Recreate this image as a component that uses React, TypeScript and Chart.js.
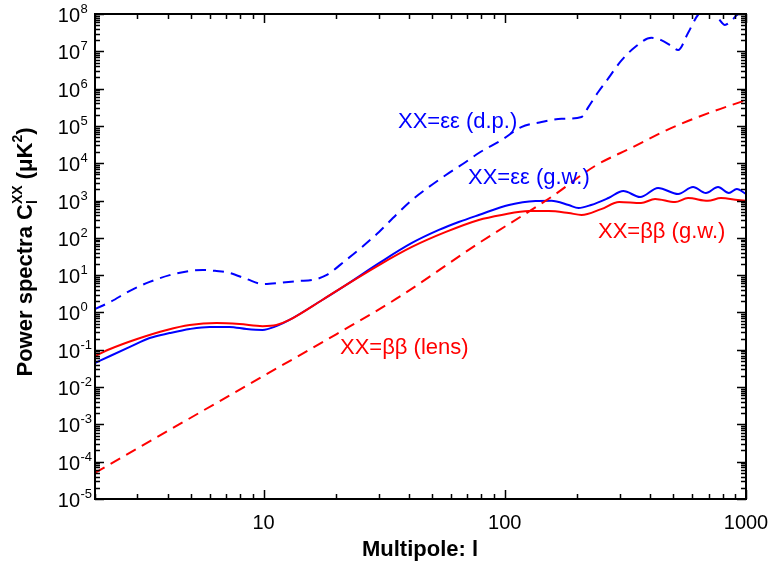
import React, { useEffect, useRef } from 'react';
import { Chart, registerables } from 'chart.js';

Chart.register(...registerables);

// ---- data (multipole l, power C_l) ----
const BLUE_DP_L = [2, 2.31, 2.79, 3.37, 4.08, 4.94, 5.59, 6.38, 7.22, 8.5, 9.9, 11.6, 14, 15.9, 18.2, 22, 25.6, 30.1, 35.4, 41.2, 48.4, 57, 68.9, 78, 97, 117, 142, 172, 208, 222, 244, 269, 301, 347, 405, 445, 490, 523, 575, 632, 700, 766, 818, 858, 916, 1000];
const BLUE_DP_V = [1.24, 1.9, 3.8, 6.6, 10, 12.9, 13.8, 12.9, 11.5, 7.9, 5.8, 6.2, 7.0, 7.4, 10, 25.6, 57, 144, 410, 1035, 2300, 4840, 10800, 18800, 42000, 93000, 127000, 155000, 174000, 320000, 810000, 1.9e6, 5.2e6, 1.3e7, 2.3e7, 2.0e7, 1.4e7, 1.08e7, 3.1e7, 9.4e7, 1.4e8, 7.8e7, 5.1e7, 6.1e7, 9.4e7, 1.6e8];

const BLUE_GW_L = [2, 2.31, 2.79, 3.37, 4.08, 4.94, 5.98, 7.22, 8.5, 9.9, 11.3, 12.8, 17.5, 22, 30.1, 41.2, 53.3, 64.4, 78, 104, 134, 156, 184, 202, 228, 269, 310, 364, 432, 523, 603, 682, 766, 849, 916, 1000];
const BLUE_GW_V = [0.044, 0.068, 0.119, 0.207, 0.28, 0.36, 0.41, 0.41, 0.36, 0.34, 0.43, 0.63, 2.16, 5.5, 21, 73, 163, 266, 410, 760, 975, 990, 760, 630, 760, 1170, 1800, 1245, 2170, 1500, 2300, 1590, 2300, 1590, 2040, 1500];

const RED_GW_L = [2, 2.31, 2.99, 3.97, 4.94, 6.38, 7.94, 9.9, 11.3, 12.8, 17.5, 22, 30.1, 41.2, 57, 78, 97, 126, 152, 184, 208, 251, 298, 367, 420, 508, 575, 695, 787, 925, 1000];
const RED_GW_V = [0.068, 0.105, 0.195, 0.34, 0.46, 0.52, 0.49, 0.43, 0.46, 0.63, 2.16, 5.5, 18.7, 57, 144, 301, 410, 525, 525, 463, 410, 590, 910, 855, 1100, 910, 1170, 980, 1170, 1035, 980];

const RED_LENS_L = [2, 10, 20, 35.4, 78, 156, 237, 334, 489, 716, 1000];
const RED_LENS_V = [5.0e-5, 0.02, 0.26, 2.3, 72, 1250, 8500, 25700, 87000, 234000, 490000];

const X_MAJOR_TICKS = [10, 100, 1000];
const X_TICK_LABELS = ['10', '100', '1000'];
const Y_EXPONENTS = [-5, -4, -3, -2, -1, 0, 1, 2, 3, 4, 5, 6, 7, 8];

const FONT = '"Liberation Sans", Arial, Helvetica, sans-serif';
const BLUE = '#0000FF';
const RED = '#FF0000';

const zip = (ls: number[], vs: number[]) => ls.map((l, i) => ({ x: l, y: vs[i] }));

type Seg = { t: string; f: string; dy?: number; stack?: boolean };

function segWidths(ctx: CanvasRenderingContext2D, segs: Seg[]) {
  let w = 0;
  let pending = 0;
  for (const s of segs) {
    ctx.font = s.f;
    const sw = ctx.measureText(s.t).width;
    if (s.stack) {
      pending = Math.max(pending, sw);
    } else {
      w += Math.max(pending, sw);
      pending = 0;
    }
  }
  return w + pending;
}

function drawSegs(ctx: CanvasRenderingContext2D, segs: Seg[], x: number, y: number) {
  let cx = x;
  let pending = 0;
  for (const s of segs) {
    ctx.font = s.f;
    ctx.textAlign = 'left';
    ctx.textBaseline = 'alphabetic';
    ctx.fillText(s.t, cx, y + (s.dy || 0));
    const sw = ctx.measureText(s.t).width;
    if (s.stack) {
      pending = Math.max(pending, sw);
    } else {
      cx += Math.max(pending, sw);
      pending = 0;
    }
  }
}

const framePlugin = {
  id: 'framePlugin',
  afterDraw(chart: any) {
    const { ctx, chartArea: a, scales } = chart;
    const xs = scales.x;
    const ys = scales.y;
    ctx.save();
    ctx.strokeStyle = '#000';
    ctx.fillStyle = '#000';
    ctx.lineWidth = 2;
    ctx.strokeRect(a.left, a.top, a.right - a.left, a.bottom - a.top);

    ctx.lineWidth = 1.5;
    ctx.beginPath();
    // x ticks
    for (const d of [1, 10, 100, 1000]) {
      for (let k = 1; k <= 9; k++) {
        const v = k * d;
        if (v < 2 || v > 1000) continue;
        const px = Math.round(xs.getPixelForValue(v)) + 0.5;
        const len = k === 1 ? 9 : 5;
        ctx.moveTo(px, a.bottom);
        ctx.lineTo(px, a.bottom - len);
        ctx.moveTo(px, a.top);
        ctx.lineTo(px, a.top + len);
      }
    }
    // y ticks
    for (let e = -5; e <= 8; e++) {
      for (let k = 1; k <= 9; k++) {
        const v = Number(`${k}e${e}`);
        if (v > 1e8) continue;
        const py = Math.round(ys.getPixelForValue(v)) + 0.5;
        const len = k === 1 ? 9 : 5;
        ctx.moveTo(a.left, py);
        ctx.lineTo(a.left + len, py);
        ctx.moveTo(a.right, py);
        ctx.lineTo(a.right - len, py);
      }
    }
    ctx.stroke();

    // y tick labels
    for (const e of Y_EXPONENTS) {
      const py = ys.getPixelForValue(Number(`1e${e}`));
      ctx.font = `20px ${FONT}`;
      ctx.textAlign = 'right';
      ctx.textBaseline = 'alphabetic';
      ctx.fillText('10', 80, py + 8);
      ctx.font = `13px ${FONT}`;
      ctx.textAlign = 'left';
      ctx.fillText(String(e), 80.5, py - 1);
    }
    // x tick labels
    X_MAJOR_TICKS.forEach((v, i) => {
      const px = xs.getPixelForValue(v);
      ctx.font = `20px ${FONT}`;
      ctx.textAlign = 'center';
      ctx.textBaseline = 'alphabetic';
      ctx.fillText(X_TICK_LABELS[i], px, 529);
    });

    // x title
    ctx.font = `bold 22px ${FONT}`;
    ctx.textAlign = 'center';
    ctx.fillText('Multipole: l', 420, 556);

    // y title
    const B = `bold 22px ${FONT}`;
    const BS = `bold 14px ${FONT}`;
    const ySegs: Seg[] = [
      { t: 'Power spectra C', f: B },
      { t: 'l', f: BS, dy: 5, stack: true },
      { t: 'XX', f: BS, dy: -10 },
      { t: ' (\u03BCK', f: B },
      { t: '2', f: BS, dy: -10 },
      { t: ')', f: B },
    ];
    const tw = segWidths(ctx, ySegs);
    ctx.save();
    ctx.translate(32, 252);
    ctx.rotate(-Math.PI / 2);
    drawSegs(ctx, ySegs, -tw / 2, 0);
    ctx.restore();

    // annotations
    const N = `22px ${FONT}`;
    ctx.fillStyle = BLUE;
    drawSegs(ctx, [{ t: 'XX=\u03B5\u03B5 (d.p.)', f: N }], 398, 128);
    drawSegs(ctx, [{ t: 'XX=\u03B5\u03B5 (g.w.)', f: N }], 468, 184);
    ctx.fillStyle = RED;
    drawSegs(ctx, [{ t: 'XX=\u03B2\u03B2 (g.w.)', f: N }], 598, 238);
    drawSegs(ctx, [{ t: 'XX=\u03B2\u03B2 (lens)', f: N }], 340, 354);
    ctx.restore();
  },
};

export default function App() {
  const ref = useRef<HTMLCanvasElement | null>(null);
  useEffect(() => {
    if (!ref.current) return;
    const common = { pointRadius: 0, borderWidth: 2, fill: false, cubicInterpolationMode: 'monotone' as const };
    const chart = new Chart(ref.current, {
      type: 'line',
      data: {
        datasets: [
          { ...common, label: 'ββ (g.w.)', data: zip(RED_GW_L, RED_GW_V), borderColor: RED },
          { ...common, label: 'ββ (lens)', data: zip(RED_LENS_L, RED_LENS_V), borderColor: RED, borderDash: [11, 7] },
          { ...common, label: 'εε (g.w.)', data: zip(BLUE_GW_L, BLUE_GW_V), borderColor: BLUE },
          { ...common, label: 'εε (d.p.)', data: zip(BLUE_DP_L, BLUE_DP_V), borderColor: BLUE, borderDash: [11, 7] },
        ],
      },
      options: {
        animation: false,
        responsive: false,
        maintainAspectRatio: false,
        devicePixelRatio: 1,
        layout: { padding: { left: 95, right: 23, top: 14, bottom: 68 } },
        plugins: { legend: { display: false }, tooltip: { enabled: false } },
        scales: {
          x: { type: 'logarithmic', min: 2, max: 1000, display: false },
          y: { type: 'logarithmic', min: 1e-5, max: 1e8, display: false },
        },
      },
      plugins: [framePlugin],
    });
    return () => chart.destroy();
  }, []);
  return (
    <div style={{ position: 'absolute', left: 0, top: 0, width: 769, height: 567, background: '#fff' }}>
      <canvas ref={ref} width={769} height={567} style={{ display: 'block' }} />
    </div>
  );
}
